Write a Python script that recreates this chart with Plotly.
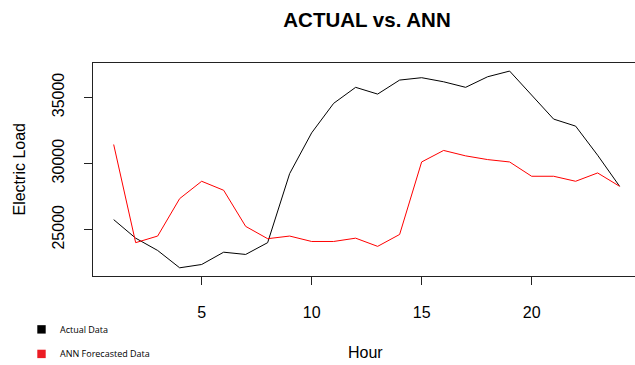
import plotly.graph_objects as go

# Hourly electric load: measured vs. ANN forecast
hours = list(range(1, 25))
actual = [25760, 24360, 23430, 22120, 22370, 23300, 23130, 24020,
          29240, 32320, 34550, 35760, 35250, 36310, 36490, 36180,
          35760, 36560, 36990, 35170, 33360, 32830, 30630, 28280]
ann_forecast = [31440, 24020, 24520, 27350, 28660, 27980, 25250, 24320,
                24520, 24110, 24110, 24360, 23740, 24640, 30120, 30990,
                30580, 30300, 30120, 29040, 29040, 28660, 29290, 28280]

x_ticks = [5, 10, 15, 20]
y_ticks = [25000, 30000, 35000]

legend_labels = ["Actual Data", "ANN Forecasted Data"]
legend_colors = ["#000000", "#ec1c24"]

FONT = "Liberation Sans, Arial, sans-serif"

fig = go.Figure()
fig.add_trace(go.Scatter(x=hours, y=actual, mode="lines",
                         line=dict(color="black", width=1), showlegend=False))
fig.add_trace(go.Scatter(x=hours, y=ann_forecast, mode="lines",
                         line=dict(color="red", width=1), showlegend=False))

W, H = 635, 365
L, R, T, B = 93, 0, 63, 89.3
pw, ph = W - L - R, H - T - B


def px(xp):
    return (xp - L) / pw


def py(yp):
    return (H - B - yp) / ph


fig.update_layout(
    width=W, height=H,
    margin=dict(l=L, r=R, t=T, b=B),
    paper_bgcolor="white", plot_bgcolor="white",
    font=dict(family=FONT, color="black"),
    title=dict(text="<b>ACTUAL vs. ANN</b>", xref="container", x=367 / W,
               xanchor="center", yref="container", y=1 - 20 / H, yanchor="middle",
               font=dict(size=20.5, family=FONT, color="black")),
)

fig.update_xaxes(range=[0.06, 24.70], tickvals=x_ticks, showgrid=False,
                 zeroline=False, showline=True, linecolor="#222", linewidth=1,
                 mirror=True, ticks="outside", ticklen=8, tickcolor="#222",
                 ticklabelstandoff=14, tickfont=dict(size=16, family=FONT))
fig.update_yaxes(range=[21500, 37600], tickvals=y_ticks, tickformat="d",
                 showgrid=False, zeroline=False, showline=True, linecolor="#222",
                 linewidth=1, mirror=False, ticks="outside", ticklen=8,
                 tickcolor="#222", tickangle=-90, ticklabelstandoff=14,
                 tickfont=dict(size=16, family=FONT))

# Axis titles
fig.add_annotation(text="Hour", xref="paper", yref="paper", x=px(365), y=py(352),
                   xanchor="center", yanchor="middle", showarrow=False,
                   font=dict(size=16, family=FONT))
fig.add_annotation(text="Electric Load", xref="paper", yref="paper", x=px(19), y=0.5,
                   xanchor="center", yanchor="middle", textangle=-90, showarrow=False,
                   font=dict(size=16, family=FONT))

# Legend keys below the plot
key_rows = [329, 353.5]
for label, color, yc in zip(legend_labels, legend_colors, key_rows):
    fig.add_shape(type="rect", xref="paper", yref="paper",
                  x0=px(37.3), x1=px(45.7), y0=py(yc - 4.2), y1=py(yc + 4.2),
                  fillcolor=color, line=dict(width=0))
    fig.add_annotation(text=label, xref="paper", yref="paper", x=px(57.5), y=py(yc),
                       xanchor="left", yanchor="middle", showarrow=False,
                       font=dict(size=9, family="Open Sans, sans-serif", color="black"))

fig.write_html("out.html")
